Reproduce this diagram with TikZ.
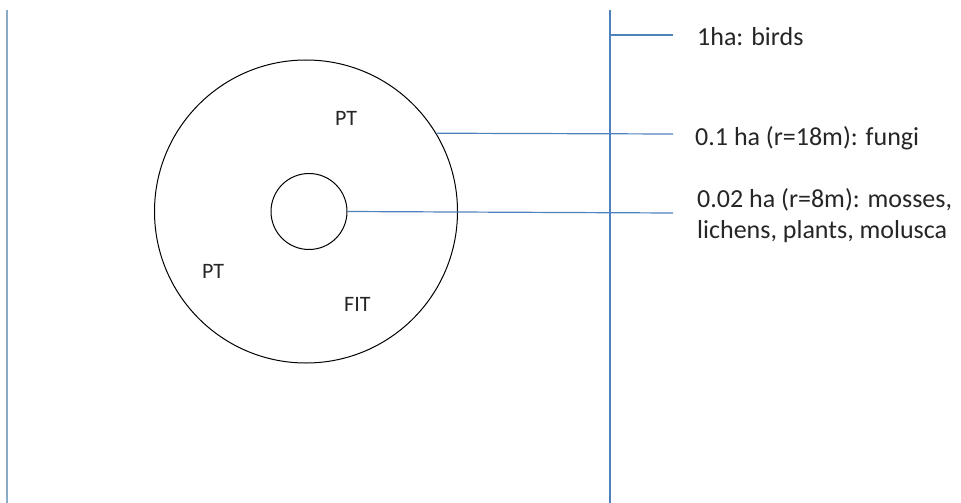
\documentclass[tikz,border=0pt]{standalone}
\usepackage{fontspec}
\setmainfont{Carlito}
\definecolor{lineblue}{RGB}{79,129,189}
\definecolor{paleblue}{RGB}{138,171,196}
\definecolor{txt}{RGB}{38,38,38}
\begin{document}
\begin{tikzpicture}[x=1pt,y=-1pt,
  ring/.style={draw=black,line width=1pt,circle,inner sep=0pt},
  lead/.style={draw=lineblue,line width=1.2pt},
  zonetxt/.style={anchor=base west,inner sep=0pt,text=txt,font=\fontsize{22}{26}\selectfont},
  sidetxt/.style={anchor=base west,inner sep=0pt,text=txt,align=left,font=\fontsize{26}{31}\selectfont}]
\useasboundingbox (0,0) rectangle (961,503);
% vertical boundaries
\coordinate (lt) at (7,10);
\coordinate (lb) at (7,503);
\coordinate (rt) at (610,10);
\coordinate (rb) at (610,503);
\draw[draw=paleblue,line width=2pt] (lt) -- (lb);
\draw[draw=lineblue,line width=1.3pt] (rt) -- (rb);
% circles
\node[ring,minimum size=303pt] (big) at (306,211.5) {};
\node[ring,minimum size=76pt] (small) at (309,211.5) {};
% zone labels
\node[zonetxt] (pt1) at (335,125) {PT};
\node[zonetxt] (pt2) at (202,278) {PT};
\node[zonetxt] (fit) at (344,311) {FIT};
% side labels
\node[sidetxt] (birds) at (697,46) {1ha: birds};
\node[sidetxt] (fungi) at (695,145) {0.1 ha (r=18m): fungi};
\node[sidetxt] (moss) at (697,238) {0.02 ha (r=8m): mosses,\\lichens, plants, molusca};
% leader lines
\coordinate (bs) at (610,35);
\coordinate (be) at (673,35);
\coordinate (fe) at (673,134);
\coordinate (me) at (673,213);
\draw[lead] (bs) -- (be);
\draw[lead] (big.31.5) -- (fe);
\draw[lead] (small.east) -- (me);
\end{tikzpicture}
\end{document}
